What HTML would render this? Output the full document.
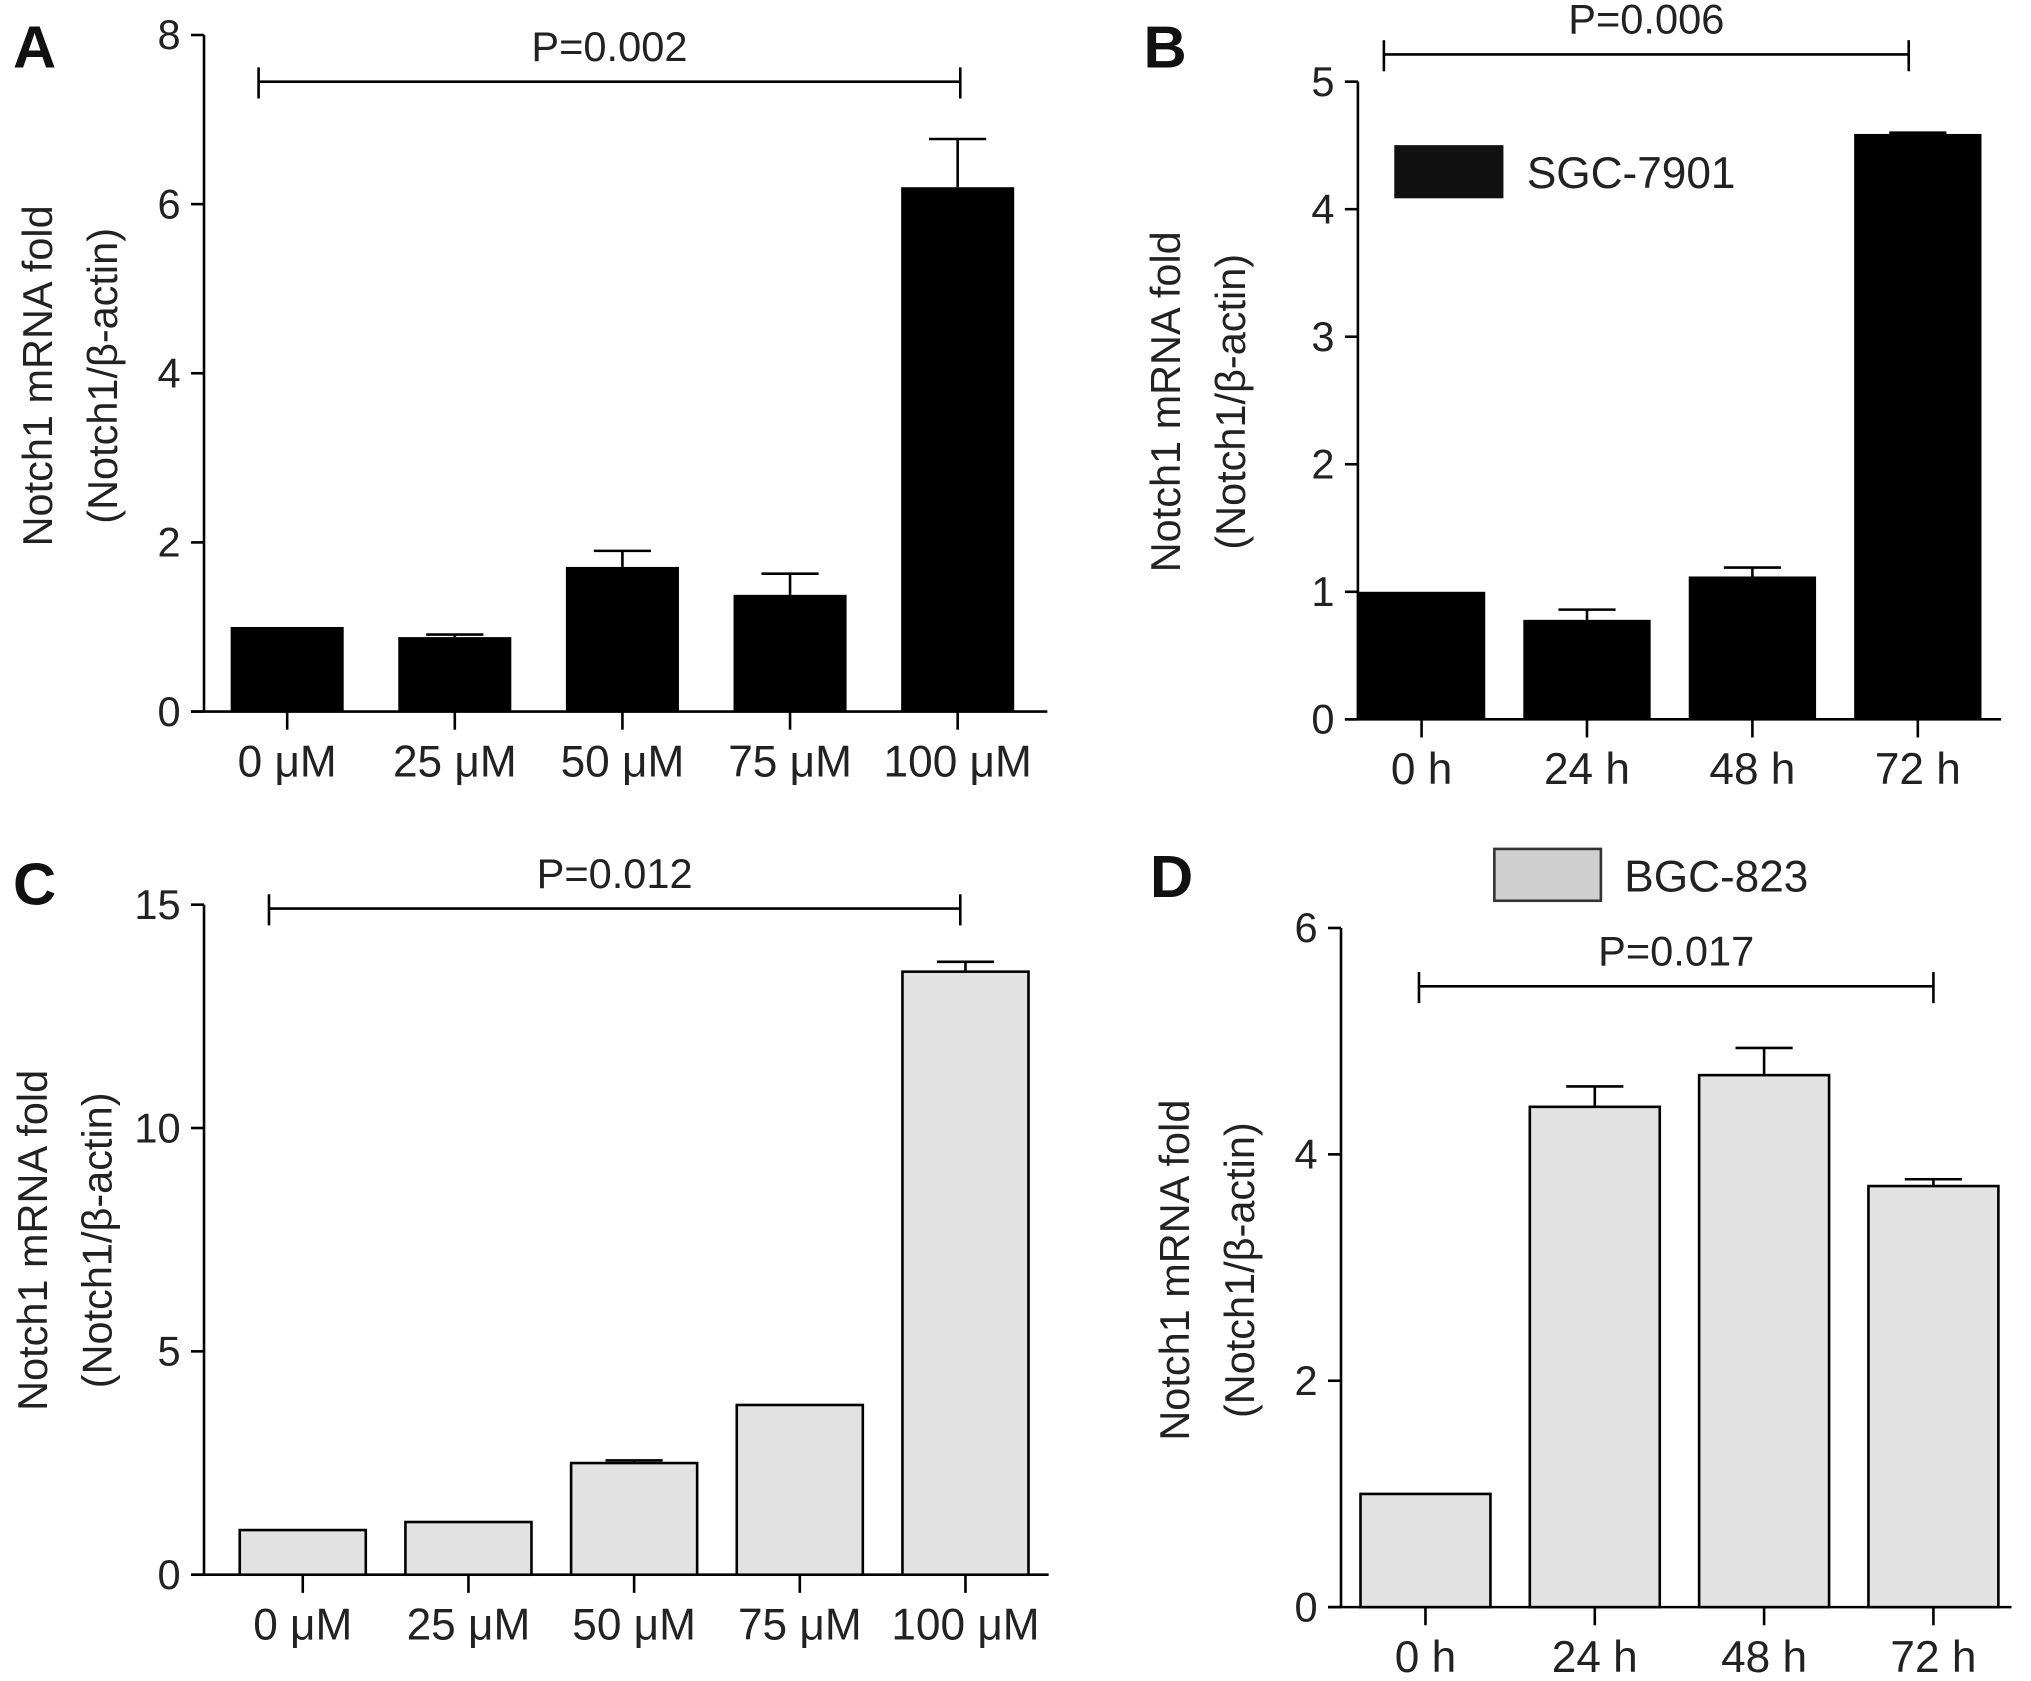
<!DOCTYPE html>
<html><head><meta charset="utf-8"><style>
html,body{margin:0;padding:0;background:#fff}
svg{display:block;font-family:"Liberation Sans",Arial,sans-serif}
</style></head><body>
<svg id="fig" width="2031" height="1681" viewBox="0 0 1563 1297" preserveAspectRatio="none" xmlns="http://www.w3.org/2000/svg"></svg>
<script>
const catsA = ["0 \u03bcM","25 \u03bcM","50 \u03bcM","75 \u03bcM","100 \u03bcM"];
const valsA = [1.0, 0.88, 1.71, 1.38, 6.2];
const errA  = [0, 0.03, 0.19, 0.25, 0.57];
const ticksA = [0,2,4,6,8];
const catsB = ["0 h","24 h","48 h","72 h"];
const valsB = [1.0, 0.78, 1.12, 4.59];
const errB  = [0, 0.08, 0.07, 0.01];
const ticksB = [0,1,2,3,4,5];
const catsC = ["0 \u03bcM","25 \u03bcM","50 \u03bcM","75 \u03bcM","100 \u03bcM"];
const valsC = [1.0, 1.18, 2.5, 3.8, 13.5];
const errC  = [0, 0, 0.06, 0, 0.22];
const ticksC = [0,5,10,15];
const catsD = ["0 h","24 h","48 h","72 h"];
const valsD = [1.0, 4.42, 4.7, 3.72];
const errD  = [0, 0.18, 0.24, 0.06];
const ticksD = [0,2,4,6];

const svg = document.getElementById('fig');
const NS = 'http://www.w3.org/2000/svg';
function mk(tag, attrs, parent, text){
  const e = document.createElementNS(NS, tag);
  for (const k in attrs) e.setAttribute(k, attrs[k]);
  if (text !== undefined) e.textContent = text;
  (parent||svg).appendChild(e);
  return e;
}
function panel(o){
  const g = mk('g', {});
  
  
  const yMax = o.ticks[o.ticks.length-1];
  const y = v => o.y0 - (v / yMax) * (o.y0 - o.yTop);
  const n = o.cats.length;
  const cx = i => o.c0 + o.step * i;
  const ya = mk('line', {x1:o.xAxis, y1:o.yTop, x2:o.xAxis, y2:o.y0, stroke:'#000','stroke-width':2}, g);
  
  
  const xa = mk('line', {x1:o.xAxis-10, y1:o.y0, x2:o.xEnd, y2:o.y0, stroke:'#000','stroke-width':2}, g);
  
  
  o.ticks.forEach(t => {
    mk('line', {x1:o.xAxis-10, y1:y(t), x2:o.xAxis, y2:y(t), stroke:'#000','stroke-width':2}, g);
    const tl = mk('text', {x:o.xAxis-18, y:y(t)+11, 'text-anchor':'end','font-size':32,fill:'#222'}, g, String(t));
    
    
  });
  o.cats.forEach((c, i) => {
    const x = cx(i), w = o.barW;
    const b = mk('rect', {x:x - w/2, y:y(o.vals[i]), width:w, height:o.y0 - y(o.vals[i]), fill:o.fill, stroke:'#000','stroke-width':o.sw}, g);
    
    
    if (o.err[i] > 0) {
      const top = y(o.vals[i] + o.err[i]);
      const e1 = mk('line', {x1:x, y1:y(o.vals[i]), x2:x, y2:top, stroke:'#000','stroke-width':2}, g);
      
      
      mk('line', {x1:x-22, y1:top, x2:x+22, y2:top, stroke:'#000','stroke-width':2}, g);
    }
    mk('line', {x1:x, y1:o.y0, x2:x, y2:o.y0+14, stroke:'#000','stroke-width':2}, g);
    const xl = mk('text', {x:x, y:o.y0+50, 'text-anchor':'middle','font-size':34,fill:'#222'}, g, c);
    
    
  });
  const bx1 = cx(0) + o.bOff1, bx2 = cx(n-1) + o.bOff2;
  const br = mk('line', {x1:bx1, y1:o.bY, x2:bx2, y2:o.bY, stroke:'#000','stroke-width':2}, g);
  
  
  mk('line', {x1:bx1, y1:o.bY-11, x2:bx1, y2:o.bY+13, stroke:'#000','stroke-width':2}, g);
  mk('line', {x1:bx2, y1:o.bY-11, x2:bx2, y2:o.bY+13, stroke:'#000','stroke-width':2}, g);
  const pt = mk('text', {x:(bx1+bx2)/2, y:o.bY-16, 'text-anchor':'middle','font-size':32,fill:'#222'}, g, o.p);
  
  
  const tt = mk('text', {transform:`translate(${o.titleX},${o.titleY}) rotate(-90)`, 'text-anchor':'middle','font-size':32,fill:'#222'}, g);
  
  
  mk('tspan', {x:0, y:0}, tt, 'Notch1 mRNA fold');
  mk('tspan', {x:0, y:50}, tt, '(Notch1/\u03b2-actin)');
  const L = mk('text', {x:o.lx, y:o.ly, 'font-size':46,'font-weight':'bold',fill:'#111'}, g, o.id);
  
  
  if (o.legend) {
    const lg = mk('g', {}, g);
    
    
    mk('rect', o.legend.box, lg);
    mk('text', {x:o.legend.tx, y:o.legend.ty, 'font-size':34, fill:'#222'}, lg, o.legend.label);
  }
}
panel({id:'A', cats:catsA, vals:valsA, err:errA, ticks:ticksA, xAxis:157, xEnd:806, c0:221, step:129, y0:549, yTop:27, barW:87, fill:'#000', sw:0,
  bY:63, bOff1:-22, bOff2:2, p:'P=0.002', titleX:40, titleY:290, lx:10, ly:52});
panel({id:'B', cats:catsB, vals:valsB, err:errB, ticks:ticksB, xAxis:1045, xEnd:1540, c0:1094, step:127.3, y0:555, yTop:63, barW:98, fill:'#000', sw:0,
  bY:42, bOff1:-29, bOff2:-7, p:'P=0.006', titleX:908, titleY:310, lx:880, ly:52,
  legend:{box:{x:1073,y:112,width:84,height:41,fill:'#111'}, tx:1175, ty:145, label:'SGC-7901'}});
panel({id:'C', cats:catsC, vals:valsC, err:errC, ticks:ticksC, xAxis:157, xEnd:807, c0:233, step:127.5, y0:1215, yTop:698, barW:97, fill:'#e2e2e2', sw:2,
  bY:701, bOff1:-26, bOff2:-4, p:'P=0.012', titleX:36, titleY:957, lx:10, ly:698});
panel({id:'D', cats:catsD, vals:valsD, err:errD, ticks:ticksD, xAxis:1032, xEnd:1548, c0:1097, step:130.3, y0:1240, yTop:716, barW:100, fill:'#e2e2e2', sw:2,
  bY:761, bOff1:-5, bOff2:0, p:'P=0.017', titleX:915, titleY:980, lx:885, ly:692,
  legend:{box:{x:1150,y:655,width:82,height:40,fill:'#cfcfcf',stroke:'#333','stroke-width':2}, tx:1250, ty:688, label:'BGC-823'}});
</script>
</body></html>
